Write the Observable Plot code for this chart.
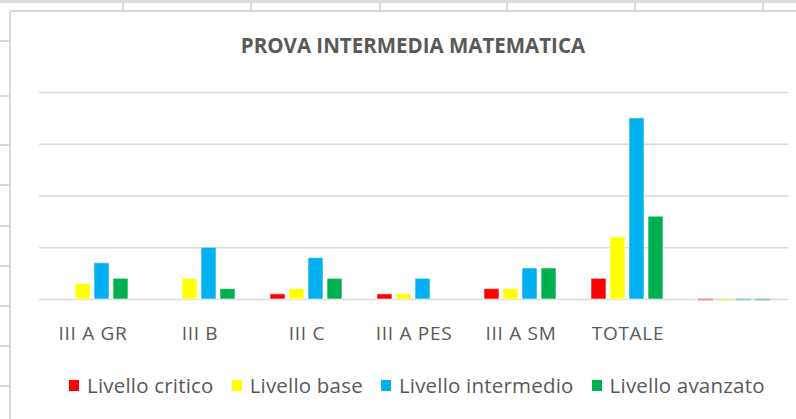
<!DOCTYPE html>
<html><head><meta charset="utf-8">
<script src="https://cdn.jsdelivr.net/npm/d3@7"></script>
<script src="https://cdn.jsdelivr.net/npm/@observablehq/plot@0.6"></script>
<style>
body{margin:0;background:#fff;width:796px;height:419px;overflow:hidden;position:relative;font-family:"Open Sans",sans-serif;color:#595959}
.ln{position:absolute;background:#dadada}
#frame{position:absolute;left:9px;top:10px;width:900px;height:500px;border:2px solid #d9d9d9;border-radius:3px;background:#fff}
#title{position:absolute;left:0;width:826px;top:31px;text-align:center;font-weight:bold;font-size:20.5px;line-height:28px;color:#595959}
#chart{position:absolute;left:0;top:60px}
#legend{position:absolute;left:69px;top:371px;display:flex;align-items:center;gap:18px;font-size:20.5px;letter-spacing:0.2px;color:#595959;white-space:nowrap}
#legend .it{display:flex;align-items:center;gap:8px}
#legend .sw{width:10px;height:11px}
</style></head><body>
<div id="sheet"></div>
<div id="frame"></div>
<div id="title">PROVA INTERMEDIA MATEMATICA</div>
<div id="chart"></div>
<div id="legend"></div>
<script>
const categories = ["III A GR", "III B", "III C", "III A PES", "III A SM", "TOTALE", ""];
const series = ["Livello critico", "Livello base", "Livello intermedio", "Livello avanzato"];
const colors = ["#FF0000", "#FFFF00", "#00B0F0", "#00B050"];
const critico = [0, 0, 1, 1, 2, 4, 0];
const base = [3, 4, 2, 1, 2, 12, 0];
const intermedio = [7, 10, 8, 4, 6, 35, 0];
const avanzato = [4, 2, 4, 0, 6, 16, 0];
const yTicks = [0, 10, 20, 30, 40];

// spreadsheet background lines
const sheet = document.getElementById("sheet");
function line(l, t, w, h) { const d = document.createElement("div"); d.className = "ln"; Object.assign(d.style, {left: l + "px", top: t + "px", width: w + "px", height: h + "px"}); sheet.appendChild(d); }
line(0, 0, 796, 2.5);
[122, 250, 379, 506, 634, 762].forEach(x => line(x, 0, 2, 10));
[40, 95, 144, 184, 225, 265, 305, 345, 385].forEach(y => line(0, y, 10, 2));

const valuesBySeries = [critico, base, intermedio, avanzato];
const rows = [];
categories.forEach((c, i) => series.forEach((s, j) => rows.push({cat: c, series: s, value: valuesBySeries[j][i]})));
const realRows = rows.filter(d => d.cat !== "");
const emptyRows = rows.filter(d => d.cat === "");

const plot = Plot.plot({
  width: 796,
  height: 300,
  marginLeft: 38,
  marginRight: 7,
  marginTop: 32,
  marginBottom: 61,
  style: {fontFamily: "Open Sans, sans-serif", fontSize: "19px", color: "#595959", background: "transparent", letterSpacing: "0.7px"},
  fx: {domain: categories, padding: 0, axis: "bottom", tickSize: 0, tickPadding: 27, label: null},
  x: {domain: series, paddingInner: 0.2, paddingOuter: 0.78, axis: null},
  y: {domain: [0, 40], axis: null},
  color: {domain: series, range: colors},
  marks: [
    Plot.ruleY(yTicks, {stroke: "#d9d9d9", strokeWidth: 1.6, strokeOpacity: 1}),
    Plot.barY(realRows, {fx: "cat", x: "series", y: "value", fill: "series", stroke: "white", strokeOpacity: 0.6, strokeWidth: 1}),
    Plot.tickY(emptyRows, {fx: "cat", x: "series", y: "value", stroke: "series", strokeOpacity: 0.35, strokeWidth: 2})
  ]
});
document.getElementById("chart").appendChild(plot);

const legend = document.getElementById("legend");
series.forEach((s, j) => {
  const it = document.createElement("div"); it.className = "it";
  const sw = document.createElement("div"); sw.className = "sw"; sw.style.background = colors[j];
  const tx = document.createElement("span"); tx.textContent = s;
  it.appendChild(sw); it.appendChild(tx); legend.appendChild(it);
});
</script>
</body></html>
